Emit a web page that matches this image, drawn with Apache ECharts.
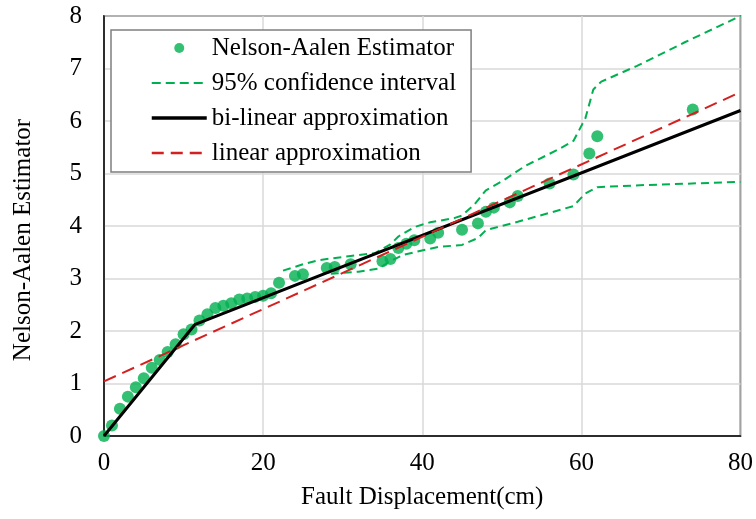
<!DOCTYPE html>
<html>
<head>
<meta charset="utf-8">
<script src="https://cdn.jsdelivr.net/npm/echarts@6/dist/echarts.min.js"></script>
<style>
  html, body { margin: 0; padding: 0; background: #fff; }
  #main { width: 756px; height: 519px; }
</style>
</head>
<body>
<div id="main"></div>
<script>
// Nelson-Aalen estimates
const naX = [0, 1, 2, 3, 4, 5, 6, 7, 8, 9, 10, 11, 12, 13, 14, 15, 16, 17, 18, 19, 20, 21, 22, 24, 25,
  28, 29, 31, 35, 36, 37, 38, 39, 41, 42, 45, 47, 48, 49, 51, 52, 56, 59, 61, 62, 74];
const naY = [0, 0.2, 0.52, 0.75, 0.93, 1.1, 1.3, 1.45, 1.6, 1.75, 1.94, 2.03, 2.2, 2.32, 2.44, 2.48, 2.53,
  2.6, 2.62, 2.65, 2.67, 2.72, 2.92, 3.05, 3.08, 3.2, 3.22, 3.27, 3.33, 3.37, 3.58, 3.66, 3.73, 3.76,
  3.87, 3.93, 4.05, 4.27, 4.35, 4.45, 4.57, 4.81, 4.98, 5.38, 5.71, 6.22];

// 95% confidence interval
const upX = [22.5, 25, 27, 31, 34, 36, 37, 39, 41, 44, 45, 46.5, 48, 50, 53, 57, 59, 60.5, 61.5, 62.5, 67, 73, 80];
const upY = [3.15, 3.27, 3.35, 3.43, 3.48, 3.65, 3.8, 3.98, 4.07, 4.15, 4.2, 4.4, 4.68, 4.85, 5.15, 5.45, 5.62,
  6.05, 6.6, 6.75, 7.05, 7.5, 8.0];
const loX = [28.5, 32, 34.5, 36, 37.6, 39.3, 42, 45, 47, 48, 52, 56, 59, 60.5, 62, 68, 80];
const loY = [3.09, 3.13, 3.19, 3.33, 3.45, 3.51, 3.6, 3.64, 3.77, 3.92, 4.08, 4.25, 4.38, 4.62, 4.74, 4.78, 4.84];

// approximations
const biX = [0, 11.4, 80];
const biY = [0, 2.12, 6.2];
const linX = [0, 80];
const linY = [1.04, 6.55];

// x/y tick setup
const xTicks = { min: 0, max: 80, interval: 20 };
const yTicks = { min: 0, max: 8, interval: 1 };

const zip = (xs, ys) => xs.map((x, i) => [x, ys[i]]);

const font = 'Liberation Serif';
const green = '#00b050';
const red = '#d42020';
// hide the symbol that echarts puts on line legend icons
const noDot = { color: 'rgba(0,0,0,0)', borderWidth: 0 };

const myChart = echarts.init(document.getElementById('main'));
myChart.setOption({
  animation: false,
  textStyle: { fontFamily: font, color: '#000' },
  grid: {
    left: 104, right: 15, top: 16, bottom: 83,
    show: true, borderColor: '#000', borderWidth: 1.5
  },
  legend: {
    orient: 'vertical',
    left: 111,
    top: 30,
    backgroundColor: '#fff',
    borderColor: '#7f7f7f',
    borderWidth: 1.5,
    borderRadius: 0,
    padding: [5, 15, 6, 39],
    itemWidth: 55,
    itemHeight: 10,
    itemGap: 9,
    textStyle: { fontFamily: font, fontSize: 25, color: '#000', lineHeight: 26 },
    data: [
      { name: 'Nelson-Aalen Estimator' },
      { name: '95% confidence interval', itemStyle: noDot, lineStyle: { color: green, width: 2, type: [9, 5] } },
      { name: 'bi-linear approximation', itemStyle: noDot, lineStyle: { color: '#000', width: 3.5 } },
      { name: 'linear approximation', itemStyle: noDot, lineStyle: { color: red, width: 2.5, type: [12, 7] } }
    ]
  },
  xAxis: {
    type: 'value',
    min: xTicks.min, max: xTicks.max, interval: xTicks.interval,
    name: 'Fault Displacement(cm)',
    nameLocation: 'middle',
    nameGap: 49,
    nameTextStyle: { fontFamily: font, fontSize: 25, color: '#000' },
    axisLine: { lineStyle: { color: '#000', width: 1.5 } },
    axisTick: { show: false },
    axisLabel: { fontFamily: font, fontSize: 25, color: '#000', margin: 15 },
    splitLine: { lineStyle: { color: '#d9d9d9', width: 1.5 } }
  },
  yAxis: {
    type: 'value',
    min: yTicks.min, max: yTicks.max, interval: yTicks.interval,
    name: 'Nelson-Aalen Estimator',
    nameLocation: 'middle',
    nameGap: 68,
    nameTextStyle: { fontFamily: font, fontSize: 25, color: '#000', padding: [0, 28, 0, 0] },
    axisLine: { lineStyle: { color: '#000', width: 1.5 } },
    axisTick: { show: false },
    axisLabel: { fontFamily: font, fontSize: 25, color: '#000', margin: 22 },
    splitLine: { lineStyle: { color: '#d9d9d9', width: 1.5 } }
  },
  series: [
    {
      name: 'Nelson-Aalen Estimator',
      type: 'scatter',
      symbolSize: 12,
      itemStyle: { color: green },
      data: zip(naX, naY)
    },
    {
      name: '95% confidence interval',
      type: 'line',
      symbol: 'none',
      itemStyle: { color: green },
      lineStyle: { color: green, width: 2, type: [8, 5] },
      data: zip(upX, upY)
    },
    {
      name: '95% confidence interval',
      type: 'line',
      symbol: 'none',
      itemStyle: { color: green },
      lineStyle: { color: green, width: 2, type: [8, 5] },
      data: zip(loX, loY)
    },
    {
      name: 'bi-linear approximation',
      type: 'line',
      symbol: 'none',
      itemStyle: { color: '#000' },
      lineStyle: { color: '#000', width: 3 },
      data: zip(biX, biY)
    },
    {
      name: 'linear approximation',
      type: 'line',
      symbol: 'none',
      itemStyle: { color: red },
      lineStyle: { color: red, width: 2, type: [13, 7] },
      data: zip(linX, linY)
    }
  ]
});
</script>
</body>
</html>
